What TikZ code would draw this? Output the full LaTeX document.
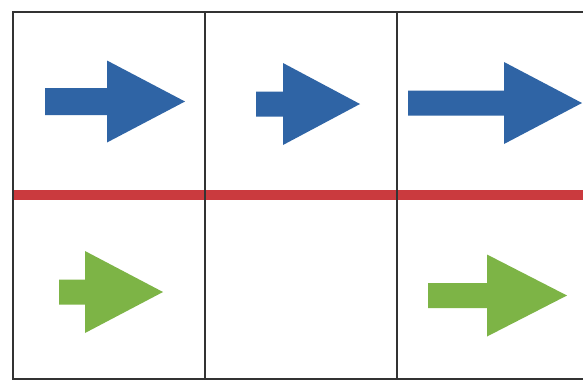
\documentclass[tikz,border=0pt]{standalone}
\usepackage{tikz}

\definecolor{arrowblue}{HTML}{2F64A5}
\definecolor{arrowgreen}{HTML}{7DB446}
\definecolor{ruled}{HTML}{CA3A3E}
\definecolor{gridgray}{HTML}{333333}

% block arrow: style, shaft start, head base, tip, middle y, half shaft, half head
\newcommand{\blockarrow}[7]{%
	\fill[#1] (#2,#5-#6) -- (#3,#5-#6) -- (#3,#5-#7) -- (#4,#5) -- (#3,#5+#7) -- (#3,#5+#6) -- (#2,#5+#6) -- cycle;}

\begin{document}
\begin{tikzpicture}[x=0.03cm, y=-0.03cm, gridline/.style={draw=gridgray, line width=1.2pt}, redline/.style={draw=ruled, line width=10*0.03cm}, bluearrow/.style={fill=arrowblue}, greenarrow/.style={fill=arrowgreen}]
	\useasboundingbox (0,0) rectangle (583,381);
	\fill[white] (0,0) rectangle (583,381);
	% the table
	\draw[redline] (13,195) -- (583,195);
	\draw[gridline] (583,12) -- (13,12) -- (13,379) -- (583,379);
	\foreach \x in {205,397} \draw[gridline, line width=1pt] (\x,12) -- (\x,379);
	% upper row
	\blockarrow{bluearrow}{45}{107}{185}{101.5}{13.5}{41}
	\blockarrow{bluearrow}{256}{283}{360}{104}{12.5}{41}
	\blockarrow{bluearrow}{408}{504}{582}{103}{12.5}{41}
	% lower row
	\blockarrow{greenarrow}{59}{85}{163}{292}{12.5}{41}
	\blockarrow{greenarrow}{428}{487}{567}{295.5}{12.5}{41}
\end{tikzpicture}
\end{document}
